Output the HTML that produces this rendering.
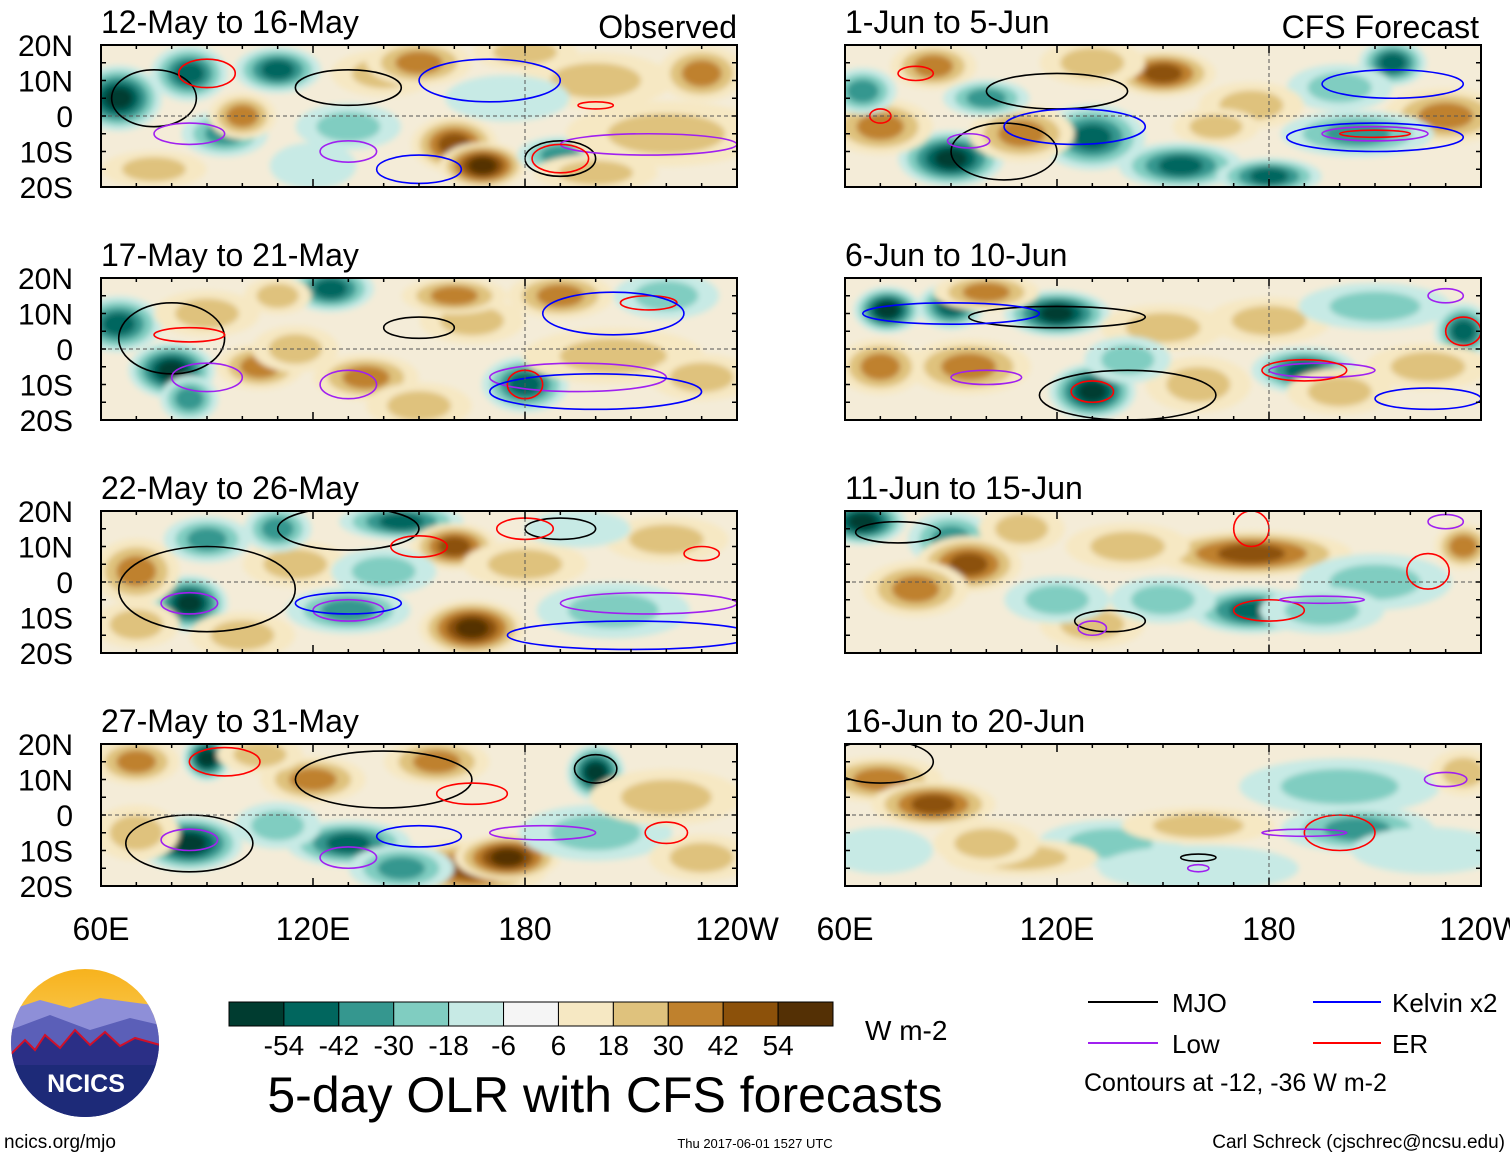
<!DOCTYPE html>
<html><head><meta charset="utf-8"><style>
body{margin:0;background:#fff;font-family:"Liberation Sans",sans-serif;}
svg text{font-family:"Liberation Sans",sans-serif;}
</style></head><body>
<svg id="root" width="1510" height="1158" xmlns="http://www.w3.org/2000/svg">
<defs>
<filter id="bl" x="-50%" y="-50%" width="200%" height="200%"><feGaussianBlur stdDeviation="3"/></filter>
<linearGradient id="sky" x1="0" y1="0" x2="0" y2="1"><stop offset="0" stop-color="#f7b21c"/><stop offset="1" stop-color="#fde89a"/></linearGradient>
</defs>
<g id="panels"></g>
<g id="cbar"></g>
<text x="865" y="1040" font-size="28">W m-2</text>
<text x="605" y="1112" font-size="50" text-anchor="middle">5-day OLR with CFS forecasts</text>
<g>
<line x1="1088" y1="1002" x2="1158" y2="1002" stroke="#000" stroke-width="2"/><text x="1172" y="1012" font-size="26">MJO</text>
<line x1="1088" y1="1043" x2="1158" y2="1043" stroke="#a020f0" stroke-width="2"/><text x="1172" y="1053" font-size="26">Low</text>
<line x1="1313" y1="1002" x2="1381" y2="1002" stroke="#0000ff" stroke-width="2"/><text x="1392" y="1012" font-size="26">Kelvin x2</text>
<line x1="1313" y1="1043" x2="1381" y2="1043" stroke="#ff0000" stroke-width="2"/><text x="1392" y="1053" font-size="26">ER</text>
<text x="1084" y="1091" font-size="25">Contours at -12, -36 W m-2</text>
</g>
<g>
<clipPath id="lc"><circle cx="85" cy="1043" r="74"/></clipPath>
<g clip-path="url(#lc)">
<rect x="10" y="968" width="150" height="150" fill="url(#sky)"/>
<path d="M10 1010 L40 1000 L70 1008 L100 998 L160 1006 L160 1120 L10 1120Z" fill="#8e8fd8"/>
<path d="M10 1030 L50 1015 L90 1030 L130 1018 L160 1025 L160 1120 L10 1120Z" fill="#5b5fb8"/>
<path d="M10 1055 L25 1040 L35 1050 L45 1035 L60 1048 L75 1030 L90 1045 L105 1032 L120 1046 L135 1038 L160 1045 L160 1120 L10 1120Z" fill="#2b2f86" stroke="#d0102a" stroke-width="2"/>
<rect x="10" y="1065" width="150" height="55" fill="#1d2a78"/>
</g>
<text x="86" y="1092" font-size="25" font-weight="bold" fill="#fff" text-anchor="middle">NCICS</text>
</g>
<text x="4" y="1148" font-size="19">ncics.org/mjo</text>
<text x="755" y="1148" font-size="13" text-anchor="middle">Thu 2017-06-01 1527 UTC</text>
<text x="1505" y="1148" font-size="19" text-anchor="end">Carl Schreck (cjschrec@ncsu.edu)</text>
</svg>
<script>
const NS="http://www.w3.org/2000/svg";
const levels=[-54,-42,-30,-18,-6,6,18,30,42,54];
const cbColors=["#003c30","#01665e","#35978f","#80cdc1","#c7eae5","#f5f5f5","#f6e8c3","#dfc27d","#bf812d","#8c510a","#543005"];
const panelTitles=["12-May to 16-May","17-May to 21-May","22-May to 26-May","27-May to 31-May","1-Jun to 5-Jun","6-Jun to 10-Jun","11-Jun to 15-Jun","16-Jun to 20-Jun"];
const latTicks=["20N","10N","0","10S","20S"];
const lonTickLabels=["60E","120E","180","120W"];
// blobs: [lon, lat, rxDeg, ryDeg, olrAnomaly]
const blobs=[
[[65,5,8,6,-54],[85,12,7,5,-42],[110,13,8,4,-42],[95,-5,8,4,-30],[160,-8,8,5,42],[168,-14,8,4,54],[190,-11,8,3,-30],[130,-3,10,4,-18],[200,10,15,5,18],[220,-5,20,6,18],[140,12,10,4,18],[75,-15,10,3,18],[230,12,8,5,30],[175,5,12,4,-6],[120,-14,8,4,-6],[150,15,10,4,30],[180,18,10,3,18],[100,0,6,4,30],[200,-16,12,3,18]],
[[65,7,8,5,-42],[80,-6,8,5,-54],[85,-14,5,4,-30],[125,17,8,4,-42],[110,15,6,3,18],[135,-8,10,4,30],[180,-10,8,5,-42],[165,8,10,4,18],[205,-2,18,5,18],[220,15,10,4,-18],[90,10,10,4,18],[150,-16,10,4,18],[105,-5,8,4,30],[160,15,10,3,30],[230,-8,10,4,18],[190,15,10,4,30],[115,0,8,4,18]],
[[85,-6,7,5,-54],[90,12,8,4,-30],[145,17,12,3,-42],[160,10,8,4,42],[165,-13,10,5,54],[130,-8,12,4,-30],[115,5,10,4,18],[205,-8,15,5,-18],[180,5,12,4,18],[70,3,8,6,30],[220,12,12,4,18],[100,-15,10,4,18],[110,15,6,4,-30],[140,3,10,4,-18],[70,-12,8,4,18],[195,15,10,3,-6]],
[[85,-8,10,5,-54],[90,16,4,4,-54],[130,-8,12,4,-42],[165,-15,15,5,42],[175,-12,10,4,54],[200,12,5,5,-54],[155,15,10,4,30],[120,10,10,4,30],[70,15,8,4,30],[200,-5,15,5,-18],[220,5,15,5,18],[70,-5,8,5,18],[110,-3,8,4,-18],[145,-15,10,4,-30],[230,-12,10,4,18],[105,17,8,3,18]],
[[90,-12,10,5,-54],[130,-6,10,6,-42],[155,-14,12,4,-42],[180,-17,10,3,-42],[150,12,10,4,42],[85,14,8,4,30],[215,15,6,4,-42],[230,0,12,5,30],[200,8,10,4,-18],[110,-5,10,5,30],[205,-5,15,4,-30],[70,-3,10,5,30],[175,3,10,4,18],[65,7,6,4,-30],[100,5,8,3,-30],[165,-3,8,3,18],[130,15,10,4,18]],
[[72,11,6,4,-54],[90,12,6,4,-42],[120,10,10,4,-54],[130,-12,8,5,-54],[190,-6,10,4,-42],[235,5,5,5,-42],[150,6,12,4,18],[180,8,12,4,18],[95,-5,12,5,30],[70,-5,8,5,30],[160,-10,10,5,18],[210,12,15,4,-18],[200,-12,10,4,18],[225,-5,12,4,18],[140,-3,8,4,-18],[100,16,10,3,30]],
[[65,17,8,4,-54],[90,12,8,5,-30],[95,5,10,5,42],[80,-2,10,5,30],[175,8,20,4,42],[175,-8,12,4,-42],[210,0,15,5,-18],[235,10,5,4,30],[140,10,12,4,18],[130,-12,10,4,18],[120,-5,10,4,-18],[150,-5,10,4,-18],[195,-8,12,4,-18],[110,15,8,4,18]],
[[70,10,12,4,30],[85,3,12,4,42],[135,-8,14,4,-18],[200,8,20,5,-18],[205,-4,15,4,-30],[160,-3,15,3,18],[110,-12,15,3,18],[225,-10,15,4,-6],[160,-15,20,4,-6],[235,12,6,4,18],[100,-8,10,4,18],[70,-10,10,4,-6]]
];
// contours: [lon, lat, rxDeg, ryDeg, type]
const contours=[
[[75,5,12,8,"k"],[130,8,15,5,"k"],[190,-12,10,5,"k"],[215,-8,25,3,"p"],[85,-5,10,3,"p"],[130,-10,8,3,"p"],[90,12,8,4,"r"],[190,-12,8,4,"r"],[200,3,5,1,"r"],[170,10,20,6,"b"],[150,-15,12,4,"b"]],
[[80,3,15,10,"k"],[150,6,10,3,"k"],[90,-8,10,4,"p"],[195,-8,25,4,"p"],[130,-10,8,4,"p"],[85,4,10,2,"r"],[180,-10,5,4,"r"],[215,13,8,2,"r"],[205,10,20,6,"b"],[200,-12,30,5,"b"]],
[[90,-2,25,12,"k"],[130,15,20,6,"k"],[190,15,10,3,"k"],[85,-6,8,3,"p"],[215,-6,25,3,"p"],[130,-8,10,3,"p"],[180,15,8,3,"r"],[150,10,8,3,"r"],[230,8,5,2,"r"],[210,-15,35,4,"b"],[130,-6,15,3,"b"]],
[[85,-8,18,8,"k"],[140,10,25,8,"k"],[200,13,6,4,"k"],[185,-5,15,2,"p"],[85,-7,8,3,"p"],[130,-12,8,3,"p"],[95,15,10,4,"r"],[165,6,10,3,"r"],[220,-5,6,3,"r"],[150,-6,12,3,"b"]],
[[105,-10,15,8,"k"],[120,7,20,5,"k"],[215,9,20,4,"b"],[210,-6,25,4,"b"],[125,-3,20,5,"b"],[95,-7,6,2,"p"],[210,-5,15,2,"p"],[210,-5,10,1,"r"],[80,12,5,2,"r"],[70,0,3,2,"r"]],
[[140,-13,25,7,"k"],[120,9,25,3,"k"],[100,-8,10,2,"p"],[195,-6,15,2,"p"],[230,15,5,2,"p"],[190,-6,12,3,"r"],[130,-12,6,3,"r"],[235,5,5,4,"r"],[90,10,25,3,"b"],[225,-14,15,3,"b"]],
[[75,14,12,3,"k"],[135,-11,10,3,"k"],[180,-8,10,3,"r"],[225,3,6,5,"r"],[175,15,5,5,"r"],[195,-5,12,1,"p"],[230,17,5,2,"p"],[130,-13,4,2,"p"]],
[[70,15,15,6,"k"],[160,-12,5,1,"k"],[200,-5,10,5,"r"],[190,-5,12,1,"p"],[230,10,6,2,"p"],[160,-15,3,1,"p"]]
];
const strokeCol={k:"#000",p:"#a020f0",r:"#ff0000",b:"#0000ff"};
function colorFor(v){let i=0;while(i<levels.length&&v>levels[i])i++;return cbColors[i];}
const panelsG=document.getElementById("panels");
const W=636,H=142;
const lefts=[101,845];const tops=[45,278,511,744];
function mk(tag,attrs,parent){const e=document.createElementNS(NS,tag);for(const k in attrs)e.setAttribute(k,attrs[k]);parent.appendChild(e);return e;}
for(let p=0;p<8;p++){
  const col=p<4?0:1,row=p%4;const X0=lefts[col],Y0=tops[row];
  const xs=lon=>X0+(lon-60)*W/180, ys=lat=>Y0+(20-lat)*H/40;
  const g=mk("g",{},panelsG);
  
  
  mk("clipPath",{id:"c"+p},g);
  mk("rect",{x:X0,y:Y0,width:W,height:H},g.lastChild);
  const inner=mk("g",{"clip-path":"url(#c"+p+")"},g);
  mk("rect",{x:X0,y:Y0,width:W,height:H,fill:"#f4ecd8"},inner);
  const fg=mk("g",{filter:"url(#bl)"},inner);
  blobs[p].forEach(b=>{
    const s=Math.sign(b[4]);
    const steps=[];for(let v=s*6;Math.abs(v)<=Math.abs(b[4])+0.1;v+=s*12)steps.push(v);
    steps.forEach((v,i)=>{const f=1-i/(steps.length+0.3);
      const e=mk("ellipse",{cx:xs(b[0]),cy:ys(b[1]),rx:b[2]*3.53*1.35*f+5,ry:b[3]*3.55*1.35*f+4,fill:colorFor(v+s*1)},fg);
      
      });
  });
  contours[p].forEach(c=>{
    const e=mk("ellipse",{cx:xs(c[0]),cy:ys(c[1]),rx:c[2]*3.53,ry:c[3]*3.55,fill:"none",stroke:strokeCol[c[4]],"stroke-width":1.6},inner);
    
    
  });
  mk("line",{x1:X0,x2:X0+W,y1:ys(0),y2:ys(0),stroke:"#555","stroke-dasharray":"4,3","stroke-width":1},inner);
  mk("line",{x1:xs(180),x2:xs(180),y1:Y0,y2:Y0+H,stroke:"#555","stroke-dasharray":"4,3","stroke-width":1},inner);
  mk("rect",{x:X0,y:Y0,width:W,height:H,fill:"none",stroke:"#000","stroke-width":2},g);
  for(let lon=60;lon<=240;lon+=10){const L=lon%60==0?8:4;
    mk("line",{x1:xs(lon),x2:xs(lon),y1:Y0,y2:Y0+L,stroke:"#000","stroke-width":1.5},g);
    mk("line",{x1:xs(lon),x2:xs(lon),y1:Y0+H,y2:Y0+H-L,stroke:"#000","stroke-width":1.5},g);}
  for(let lat=-20;lat<=20;lat+=5){mk("line",{x1:X0,x2:X0+5,y1:ys(lat),y2:ys(lat),stroke:"#000","stroke-width":1.5},g);
    mk("line",{x1:X0+W,x2:X0+W-5,y1:ys(lat),y2:ys(lat),stroke:"#000","stroke-width":1.5},g);}
  const t=mk("text",{x:X0,y:Y0-12,"font-size":32},g);t.textContent=panelTitles[p];
  
  if(p==0){const o=mk("text",{x:737,y:Y0-7,"font-size":32,"text-anchor":"end"},g);o.textContent="Observed";
    }
  if(p==4){const o=mk("text",{x:1479,y:Y0-7,"font-size":32,"text-anchor":"end"},g);o.textContent="CFS Forecast";
    }
  if(col==0){latTicks.forEach((l,i)=>{const tt=mk("text",{x:73,y:Y0+i*H/4+11,"font-size":30,"text-anchor":"end"},g);tt.textContent=l;
    });}
  if(row==3){lonTickLabels.forEach((l,i)=>{const tt=mk("text",{x:X0+i*W/3,y:940,"font-size":32,"text-anchor":"middle"},g);tt.textContent=l;
    });}
}
const cb=document.getElementById("cbar");const cbx=229,cbw=604/11;
cbColors.forEach((c,i)=>{const r=mk("rect",{x:cbx+i*cbw,y:1002,width:cbw,height:24,fill:c,stroke:"#000","stroke-width":1},cb);
  });
levels.forEach((v,i)=>{const t=mk("text",{x:cbx+(i+1)*cbw,y:1055,"font-size":28,"text-anchor":"middle"},cb);t.textContent=v;
  });
</script>
</body></html>
